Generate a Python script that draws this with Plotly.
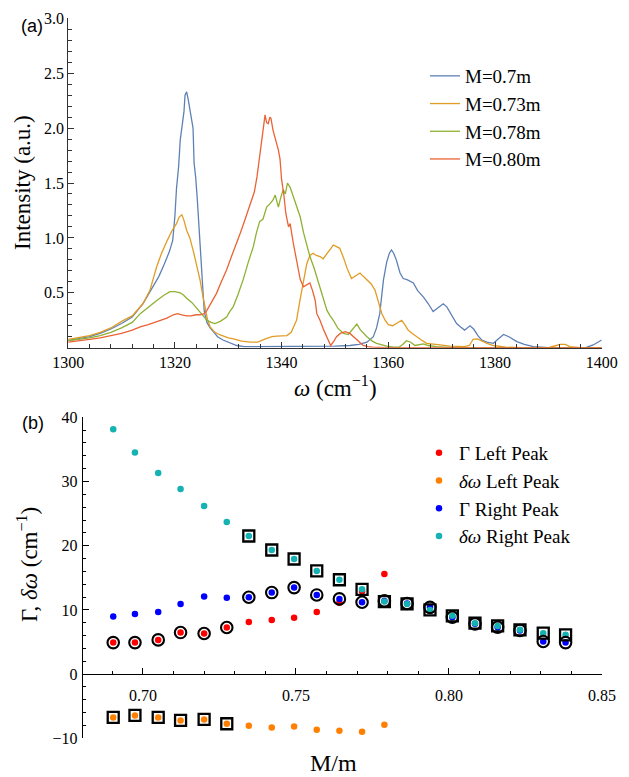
import plotly.graph_objects as go

# ---------------- Panel (a) spectra ----------------
w_07 = [1300,1302,1304,1306,1308,1310,1312,1314,1315,1316,1317,1318,1319,1319.6,1320.0,1320.3,1320.7,1321.0,1321.4,1321.7,1321.9,1322.2,1322.5,1322.8,1323.1,1323.4,1323.6,1323.9,1324.2,1324.7,1325.1,1325.5,1326,1326.6,1327.2,1328,1329,1329.7,1330.5,1331.6,1333,1336,1340,1345,1350,1352.8,1354.5,1356,1357.2,1357.8,1358.4,1359.1,1359.7,1360.2,1360.6,1361.0,1361.5,1362.2,1362.8,1363.5,1364.2,1364.7,1365.5,1366.6,1367.5,1368.4,1369.2,1370.3,1371.0,1371.8,1372.8,1373.5,1374.3,1375.3,1376.0,1376.8,1377.5,1378.5,1379.7,1380.6,1381.6,1382.6,1384.1,1385.5,1387.2,1390,1395,1397,1398.4,1399.2,1400]
I_07 = [0.065,0.08,0.10,0.13,0.17,0.22,0.28,0.40,0.48,0.56,0.65,0.76,0.88,0.98,1.20,1.45,1.65,1.89,2.05,2.15,2.30,2.33,2.26,2.18,2.10,2.00,1.68,1.55,1.35,0.98,0.60,0.33,0.23,0.18,0.146,0.10,0.07,0.055,0.04,0.02,0.01,0.01,0.01,0.01,0.015,0.02,0.03,0.05,0.10,0.18,0.31,0.62,0.78,0.86,0.89,0.86,0.80,0.68,0.63,0.62,0.60,0.59,0.52,0.46,0.40,0.33,0.36,0.40,0.37,0.30,0.22,0.19,0.16,0.20,0.17,0.11,0.07,0.05,0.04,0.08,0.12,0.10,0.055,0.03,0.01,0.0,0.0,0.0,0.025,0.05,0.07]

w_073 = [1300,1302,1304,1306,1308,1310,1312,1314,1315.3,1316.6,1317.5,1318.6,1319.5,1320.3,1320.8,1321.3,1321.7,1322.2,1322.8,1323.5,1324.1,1324.7,1325.2,1325.6,1326.1,1326.6,1327.5,1328.5,1330,1331,1332.5,1334.1,1335.5,1337.2,1338.2,1339.1,1340,1341,1341.8,1342.3,1342.8,1343.4,1344.1,1344.7,1345.3,1345.9,1346.5,1347.2,1347.8,1348.5,1349.2,1349.7,1350.3,1350.9,1351.6,1352.3,1353.1,1353.8,1354.7,1355.3,1356,1356.8,1357.5,1358.2,1358.8,1359.4,1360,1360.8,1361.6,1362.5,1363.1,1363.7,1364.5,1365.3,1366.2,1367.2,1368.5,1369.7,1371.5,1373,1374.3,1375.2,1375.9,1376.7,1377.5,1378.5,1379.7,1381,1382,1385,1390,1391.5,1392.2,1393.2,1394,1396,1400]
I_073 = [0.075,0.09,0.11,0.14,0.18,0.24,0.29,0.40,0.52,0.74,0.86,0.98,1.07,1.13,1.19,1.21,1.16,1.07,1.00,0.87,0.74,0.62,0.48,0.37,0.26,0.19,0.14,0.116,0.09,0.08,0.06,0.05,0.05,0.085,0.10,0.105,0.11,0.11,0.14,0.19,0.25,0.42,0.62,0.76,0.84,0.86,0.84,0.83,0.81,0.86,0.91,0.935,0.92,0.905,0.82,0.72,0.63,0.65,0.68,0.65,0.62,0.58,0.525,0.42,0.31,0.25,0.21,0.20,0.22,0.25,0.21,0.16,0.13,0.10,0.07,0.04,0.03,0.025,0.015,0.01,0.01,0.02,0.077,0.08,0.06,0.04,0.02,0.01,0.005,0.0,0.0,0.02,0.03,0.03,0.01,0.0,0.0]

w_078 = [1300,1302,1304,1306,1308,1310,1312,1313.5,1315,1316.6,1318,1319.1,1320,1321,1321.6,1322.2,1323.2,1324.1,1325,1326,1326.8,1327.5,1328.5,1329.7,1330.3,1330.9,1331.8,1332.8,1333.7,1334.7,1335.3,1335.9,1336.5,1337.2,1337.8,1338.4,1338.8,1339.4,1339.8,1340.3,1340.7,1341.1,1341.6,1342.2,1342.8,1343.5,1344.1,1344.7,1345.3,1346,1346.9,1347.5,1348.5,1349.1,1349.7,1350.5,1351.6,1352.5,1353.3,1354.1,1354.8,1356,1357,1357.8,1359.7,1361,1362,1362.7,1363.4,1364.2,1365,1365.8,1366.6,1367.5,1369,1372,1380,1400]
I_078 = [0.064,0.075,0.09,0.11,0.14,0.18,0.23,0.31,0.37,0.43,0.48,0.51,0.51,0.50,0.48,0.45,0.41,0.36,0.31,0.25,0.23,0.22,0.24,0.28,0.33,0.37,0.48,0.62,0.77,0.92,1.05,1.15,1.17,1.28,1.31,1.345,1.39,1.28,1.36,1.44,1.40,1.50,1.46,1.375,1.28,1.19,1.05,0.95,0.83,0.74,0.59,0.50,0.34,0.29,0.25,0.18,0.13,0.12,0.17,0.215,0.16,0.10,0.06,0.04,0.015,0.005,0.005,0.03,0.064,0.05,0.02,0.03,0.035,0.02,0.01,0.0,0.0,0.0]

w_080 = [1300,1302,1304,1306,1308,1310,1312,1313.5,1315,1317.2,1318.5,1319.7,1320.5,1321.3,1322.2,1323,1324,1324.7,1325.5,1326,1326.9,1327.8,1328.7,1329.7,1330.6,1331.6,1332.3,1333.1,1333.8,1334.4,1334.9,1335.4,1335.9,1336.3,1336.6,1336.9,1337.2,1337.5,1337.8,1338,1338.4,1338.8,1339.1,1339.4,1339.7,1340,1340.4,1340.8,1341.3,1341.6,1342.2,1342.8,1343.5,1344.1,1344.7,1345.3,1345.8,1346.3,1346.6,1347.2,1347.9,1348.5,1349.2,1349.8,1350.3,1351,1351.9,1352.8,1353.5,1354.1,1354.7,1355.3,1356.2,1357,1360,1400]
I_080 = [0.05,0.06,0.075,0.09,0.11,0.13,0.16,0.19,0.21,0.25,0.27,0.30,0.31,0.30,0.29,0.29,0.30,0.30,0.31,0.34,0.42,0.495,0.60,0.71,0.83,0.95,1.05,1.16,1.26,1.345,1.42,1.56,1.75,1.89,2.02,2.12,2.05,2.04,2.10,2.09,1.98,1.91,1.87,1.80,1.72,1.53,1.40,1.22,1.10,1.13,0.95,0.80,0.62,0.555,0.57,0.59,0.52,0.43,0.31,0.25,0.16,0.10,0.02,0.06,0.10,0.13,0.146,0.13,0.10,0.07,0.04,0.02,0.01,0.005,0.0,0.0]

spectra_names = ["M=0.7m", "M=0.73m", "M=0.78m", "M=0.80m"]
spectra_colors = ["rgb(94,129,181)", "rgb(225,156,36)", "rgb(143,176,50)", "rgb(235,98,53)"]

xa_ticks = [1300, 1320, 1340, 1360, 1380, 1400]
ya_ticks = [0.5, 1.0, 1.5, 2.0, 2.5, 3.0]
ya_labels = ["0.5", "1.0", "1.5", "2.0", "2.5", "3.0"]

# ---------------- Panel (b) fit parameters ----------------
mm = [0.6903,0.6974,0.7050,0.7123,0.7200,0.7274,0.7346,0.7421,0.7494,0.7568,0.7642,0.7716,0.7789,0.7863,0.7938,0.8011,0.8085,0.8159,0.8232,0.8308,0.8381]
gamma_left = [4.91,4.91,5.33,6.47,6.32,7.25,8.13,8.44,8.76,9.69,11.1,12.9,15.6]
dw_left = [-6.75,-6.44,-6.75,-7.22,-7.06,-7.73,-8.04,-8.30,-8.15,-8.66,-8.82,-8.97,-7.89]
gamma_right = [8.96,9.38,9.69,10.93,12.07,11.91,11.97,12.7,13.47,12.33,11.71,11.2,11.4,11.0,10.4,8.86,7.83,7.3,6.8,5.07,4.91]
dw_right = [38.15,34.53,31.31,28.82,26.17,23.69,21.51,19.33,17.93,16.07,14.7,13.2,11.3,10.93,10.0,9.07,7.93,7.5,6.89,6.37,6.11]
n_left_tracked = 6   # first points where the left peak is the tracked mode

xb_ticks = [0.70, 0.75, 0.80, 0.85]
xb_labels = ["0.70", "0.75", "0.80", "0.85"]
yb_ticks = [-10, 0, 10, 20, 30, 40]
yb_labels = ["\u221210", "0", "10", "20", "30", "40"]

SERIF = "Liberation Serif"
W, H = 629, 777

fig = go.Figure()

for w, I, nm, c in zip([w_07, w_073, w_078, w_080], [I_07, I_073, I_078, I_080], spectra_names, spectra_colors):
    fig.add_trace(go.Scatter(x=w, y=I, mode="lines", name=nm, line=dict(color=c, width=1.3),
                             xaxis="x", yaxis="y", legend="legend"))

dot = 6.5
nl = len(gamma_left)
fig.add_trace(go.Scatter(x=mm[:nl], y=gamma_left, mode="markers", name="Γ Left Peak",
                         marker=dict(color="rgb(255,0,0)", size=dot), xaxis="x2", yaxis="y2", legend="legend2"))
fig.add_trace(go.Scatter(x=mm[:nl], y=dw_left, mode="markers", name="<i>δω</i> Left Peak",
                         marker=dict(color="rgb(255,128,0)", size=dot), xaxis="x2", yaxis="y2", legend="legend2"))
fig.add_trace(go.Scatter(x=mm, y=gamma_right, mode="markers", name="Γ Right Peak",
                         marker=dict(color="rgb(0,0,255)", size=dot), xaxis="x2", yaxis="y2", legend="legend2"))
fig.add_trace(go.Scatter(x=mm, y=dw_right, mode="markers", name="<i>δω</i> Right Peak",
                         marker=dict(color="rgb(20,178,178)", size=dot), xaxis="x2", yaxis="y2", legend="legend2"))

# tracked-mode highlights: circles on Γ, squares on δω
k = n_left_tracked
circ_x = mm[:k] + mm[k:]
circ_y = gamma_left[:k] + gamma_right[k:]
box_x = mm[:k] + mm[k:]
box_y = dw_left[:k] + dw_right[k:]
fig.add_trace(go.Scatter(x=circ_x, y=circ_y, mode="markers", showlegend=False, hoverinfo="skip",
                         marker=dict(symbol="circle-open", size=11.5, color="black", line=dict(width=2.1, color="black")),
                         xaxis="x2", yaxis="y2"))
fig.add_trace(go.Scatter(x=box_x, y=box_y, mode="markers", showlegend=False, hoverinfo="skip",
                         marker=dict(symbol="square-open", size=11, color="black", line=dict(width=2.3, color="black")),
                         xaxis="x2", yaxis="y2"))

tickfont = dict(family=SERIF, size=16, color="black")
axcol = "#333333"

def px(x):
    return x / W

def py(y):
    return 1 - y / H

fig.update_layout(
    width=W, height=H,
    margin=dict(l=0, r=0, t=0, b=0),
    paper_bgcolor="white", plot_bgcolor="white",
    showlegend=True,
    xaxis=dict(domain=[px(68.2), px(601.7)], range=[1300, 1400], anchor="y",
               showgrid=False, zeroline=False, showline=True, linecolor=axcol, linewidth=1,
               tickmode="array", tickvals=xa_ticks, ticks="inside", ticklen=6, tickcolor=axcol, tickwidth=1,
               minor=dict(tickmode="linear", tick0=1300, dtick=4, ticks="inside", ticklen=3.5, tickcolor=axcol),
               tickfont=tickfont, automargin=False, ticklabelstandoff=0),
    yaxis=dict(domain=[py(347.7), py(18.3)], range=[0, 3.0], anchor="x",
               showgrid=False, zeroline=False, showline=True, linecolor=axcol, linewidth=1,
               tickmode="array", tickvals=ya_ticks, ticktext=ya_labels, ticks="inside", ticklen=6, tickcolor=axcol,
               minor=dict(tickmode="linear", tick0=0, dtick=0.1, ticks="inside", ticklen=3.5, tickcolor=axcol),
               tickfont=tickfont, automargin=False, ticklabelstandoff=0),
    xaxis2=dict(domain=[px(81.7), px(602)], range=[0.68, 0.85], anchor="free", position=py(674.2),
                showgrid=False, zeroline=False, showline=True, linecolor="black", linewidth=1,
                tickmode="array", tickvals=xb_ticks, ticktext=xb_labels, ticks="inside", ticklen=6, tickcolor="black",
                minor=dict(tickmode="linear", tick0=0.68, dtick=0.01, ticks="inside", ticklen=3.5, tickcolor="black"),
                tickfont=tickfont, automargin=False, ticklabelstandoff=7),
    yaxis2=dict(domain=[py(738.3), py(417.3)], range=[-10, 40], anchor="free", position=px(81.7),
                showgrid=False, zeroline=False, showline=True, linecolor="black", linewidth=1,
                tickmode="array", tickvals=yb_ticks, ticktext=yb_labels, ticks="inside", ticklen=6, tickcolor="black",
                minor=dict(tickmode="linear", tick0=-10, dtick=2, ticks="inside", ticklen=3.5, tickcolor="black"),
                tickfont=tickfont, automargin=False, ticklabelstandoff=1),
    legend=dict(x=px(425), y=py(57), xanchor="left", yanchor="top", bgcolor="rgba(0,0,0,0)",
                font=dict(family=SERIF, size=19, color="black"), itemwidth=30, tracegroupgap=0),
    legend2=dict(x=px(419), y=py(434), xanchor="left", yanchor="top", bgcolor="rgba(0,0,0,0)",
                 font=dict(family=SERIF, size=19, color="black"), itemwidth=30, tracegroupgap=0),
)

ann = [
    dict(text="(a)", x=px(32), y=py(26), font=dict(family="Liberation Sans", size=18)),
    dict(text="(b)", x=px(33), y=py(423), font=dict(family="Liberation Sans", size=18)),
    dict(text="Intensity (a.u.)", x=px(23), y=py(183), textangle=-90, font=dict(family=SERIF, size=23)),
    dict(text="<i>ω</i> (cm<sup>−1</sup>)", x=px(335), y=py(386), font=dict(family=SERIF, size=23)),
    dict(text="Γ, <i>δω</i> (cm<sup>−1</sup>)", x=px(27), y=py(565), textangle=-90, font=dict(family=SERIF, size=23)),
    dict(text="M/m", x=px(333), y=py(763), font=dict(family=SERIF, size=24)),
]
for a in ann:
    fig.add_annotation(xref="paper", yref="paper", showarrow=False, xanchor="center", yanchor="middle",
                       font_color="black", **{k2: v for k2, v in a.items()})

fig.write_html("out.html", config={"displayModeBar": False},
               post_script="document.body.style.margin='0px';document.body.style.overflow='hidden';")
